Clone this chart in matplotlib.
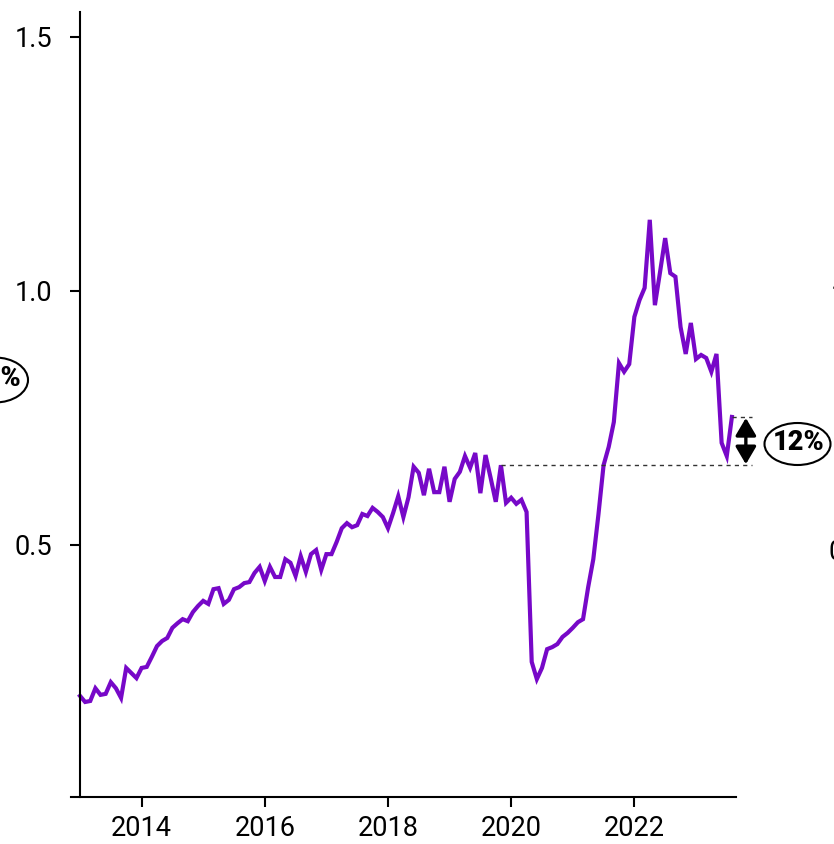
import matplotlib
matplotlib.use("Agg")
import matplotlib.pyplot as plt
from matplotlib.patches import Ellipse
import numpy as np

# monthly series, Jan 2013 .. Aug 2023
start_year = 2013
values = [
    0.203, 0.191, 0.193, 0.218, 0.205, 0.207, 0.230, 0.218, 0.199, 0.258, 0.248, 0.238,  # 2013
    0.258, 0.260, 0.280, 0.301, 0.311, 0.317, 0.337, 0.346, 0.354, 0.350, 0.368, 0.380,  # 2014
    0.390, 0.384, 0.413, 0.415, 0.384, 0.392, 0.413, 0.417, 0.425, 0.427, 0.445, 0.457,  # 2015
    0.429, 0.457, 0.437, 0.437, 0.472, 0.465, 0.439, 0.478, 0.447, 0.482, 0.490, 0.451,  # 2016
    0.482, 0.482, 0.506, 0.533, 0.543, 0.535, 0.539, 0.561, 0.557, 0.573, 0.565, 0.555,  # 2017
    0.533, 0.563, 0.596, 0.555, 0.594, 0.654, 0.642, 0.598, 0.650, 0.604, 0.604, 0.654,  # 2018
    0.585, 0.630, 0.644, 0.675, 0.652, 0.681, 0.602, 0.677, 0.632, 0.585, 0.657, 0.583,  # 2019
    0.593, 0.581, 0.589, 0.565, 0.270, 0.236, 0.258, 0.295, 0.299, 0.305, 0.319, 0.327,  # 2020
    0.337, 0.348, 0.354, 0.417, 0.472, 0.560, 0.657, 0.693, 0.742, 0.858, 0.841, 0.856,  # 2021
    0.949, 0.982, 1.006, 1.140, 0.972, 1.037, 1.104, 1.035, 1.028, 0.929, 0.876, 0.937,  # 2022
    0.866, 0.874, 0.868, 0.841, 0.876, 0.701, 0.675, 0.752,                              # 2023
]
ref_idx = 82          # Nov 2019 reference level
change_label = "12%"
xticks = [2014, 2016, 2018, 2020, 2022]
yticks = [0.5, 1.0, 1.5]

x = start_year + np.arange(len(values)) / 12.0
y = np.array(values)

plt.rcParams['font.family'] = ['Roboto', 'DejaVu Sans']

fig = plt.figure(figsize=(8.34, 8.44), dpi=100)
W, H = 834, 844
ax = fig.add_axes([71 / W, 47 / H, (736 - 71) / W, (832 - 47) / H])

ax.plot(x, y, color='#7708c8', lw=3.0, solid_joinstyle='miter', clip_on=False)

ax.set_xlim(2012.854, 2023.65)
ax.set_ylim(0.004, 1.549)
ax.set_xticks(xticks)
ax.set_xticklabels([str(t) for t in xticks])
ax.set_yticks(yticks)
ax.set_yticklabels([f"{t:.1f}" for t in yticks])

for s in ['top', 'right']:
    ax.spines[s].set_visible(False)
ax.spines['left'].set_position(('data', start_year))
ax.spines['left'].set_linewidth(1.5)
ax.spines['bottom'].set_linewidth(1.5)
ax.tick_params(axis='both', width=1.5, length=7, labelsize=19.5, color='black')
ax.tick_params(axis='y', pad=13)
ax.tick_params(axis='x', pad=6)

# reference and latest level
x_ref = x[ref_idx]
y_ref = y[ref_idx]
x_last = x[-1]
y_last = y[-1]
x_end = 2023.91
ax.plot([x_ref, x_end], [y_ref, y_ref], ls=(0, (3, 3)), color='#333333', lw=1.0, clip_on=False)
ax.plot([x_last, x_end], [y_last, y_last], ls=(0, (3, 3)), color='#333333', lw=1.0, clip_on=False)
ax.annotate('', xy=(2023.81, y_ref + 0.002), xytext=(2023.81, y_last - 0.002),
            arrowprops=dict(arrowstyle='<|-|>,head_length=0.85,head_width=0.5', color='black',
                            lw=2.4, mutation_scale=12.5, shrinkA=0, shrinkB=0),
            annotation_clip=False)

# ovals
fig.patches.append(Ellipse((797.5 / W, (H - 444) / H), 66 / W, 42 / H, transform=fig.transFigure,
                           fc='white', ec='black', lw=1.5, zorder=5))
fig.text(799 / W, (H - 443) / H, change_label, ha='center', va='center', fontsize=19.5,
         fontweight='black', zorder=6)
fig.patches.append(Ellipse((-5 / W, (H - 380) / H), 66 / W, 45 / H, transform=fig.transFigure,
                           fc='white', ec='black', lw=1.5, zorder=5))
fig.text(-4 / W, (H - 379) / H, change_label, ha='center', va='center', fontsize=19.5,
         fontweight='black', zorder=6)

# neighbouring panel tick labels, cut off at the edge
fig.text(831 / W, (H - 297) / H, "1.0", ha='left', va='center', fontsize=19.5)
fig.text(828 / W, (H - 552) / H, "0.5", ha='left', va='center', fontsize=19.5)

fig.savefig('out.png', dpi=100)
